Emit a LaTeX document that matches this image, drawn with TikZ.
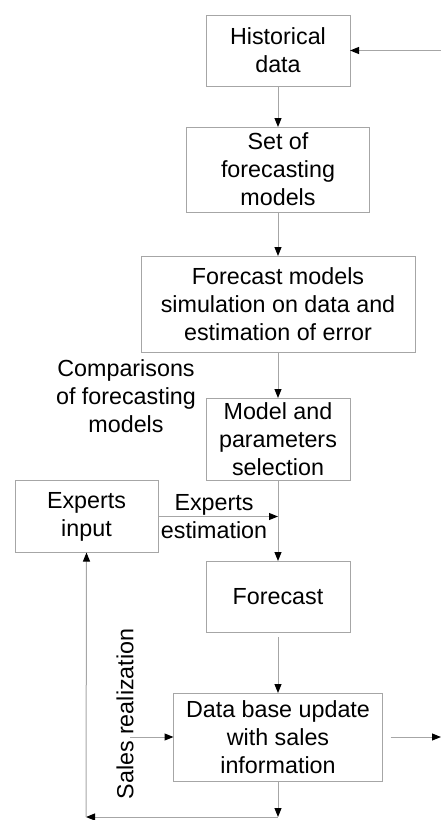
\documentclass[tikz,border=0pt]{standalone}
\usepackage{fontspec}
\setmainfont{Liberation Sans}
\usetikzlibrary{arrows.meta, positioning}

\begin{document}
\begin{tikzpicture}[x=1pt, y=1pt, node distance=40pt, outer sep=0pt,
  font=\fontsize{23.3}{28}\selectfont]

\tikzstyle{box}=[rectangle,draw=gray!70,line width=1pt,align=center,inner sep=2pt]
\tikzstyle{arr}=[draw=gray!70,line width=1pt,-{Triangle[length=9pt,width=7pt,color=black]}]

\useasboundingbox (0,0) rectangle (441,-820);

\node[box,minimum width=144pt,minimum height=71pt] (hist) at (278,-50.5) {Historical\\data};
\node[box,minimum width=183pt,minimum height=85pt] (models) [below = 41pt of hist] {Set of\\forecasting\\models};
\node[box,minimum width=274pt,minimum height=96pt] (simul) [below = 44pt of models] {Forecast models\\simulation on data and\\estimation of error};
\node[box,minimum width=144pt,minimum height=82pt] (select) [below = 46pt of simul] {Model and\\parameters\\selection};
\node[box,minimum width=144pt,minimum height=71pt] (forecast) [below = 81pt of select] {Forecast};
\node[box,minimum width=209pt,minimum height=88pt] (update) [below = 61pt of forecast] {Data base update\\with sales\\information};
\node[box,minimum width=143pt,minimum height=72pt] (experts) at (86.5,-516.5) {Experts\\input};
\node[align=center] (compare) at (126,-396) {Comparisons\\of forecasting\\models};
\node[rotate=90] (sales) at (125,-714) {Sales realization};

\coordinate (feedin) at (441,-50.5);
\coordinate (join) at (select.south |- experts.east);
\coordinate (salesin) at (130,-737);
\coordinate (feedout) at (441,-737);
\coordinate (loopr) at (278,-817);
\coordinate (loopl) at (86,-817);

\draw[arr] (feedin) -- (hist.east);
\draw[arr] (hist) -- (models);
\draw[arr] (models) -- (simul);
\draw[arr] (simul) -- (select);
\draw[arr] (select) -- (forecast);
\draw[arr] (experts.east) -- (join) node[midway,align=center,xshift=-4pt] {Experts\\estimation};
\draw[arr,shorten <=5pt] (forecast) -- (update);
\draw[arr] (salesin) -- (update.west |- salesin);
\draw[arr,shorten <=8pt] (update.east |- feedout) -- (feedout);
\draw[arr] (update.south) -- (loopr);
\draw[arr] (loopr) -- (loopl);
\draw[arr] (loopl) -- (experts.south);
\end{tikzpicture}
\end{document}
